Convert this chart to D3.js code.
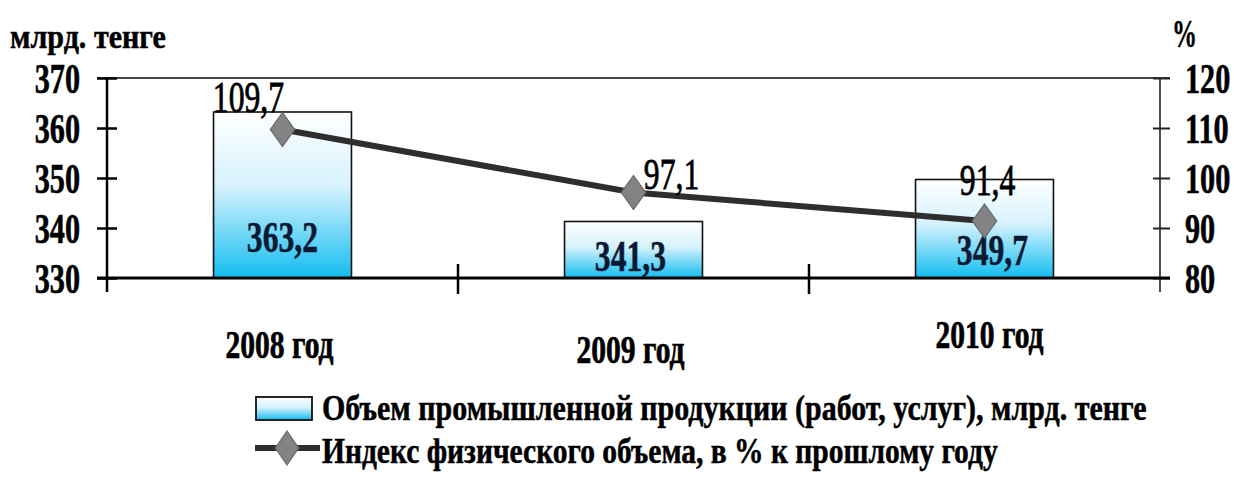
<!DOCTYPE html>
<html><head><meta charset="utf-8">
<script src="https://cdn.jsdelivr.net/npm/d3@7"></script>
<style>body{margin:0;background:#fff}svg{display:block}text{font-family:"Liberation Serif","Times New Roman",serif}</style>
</head><body>
<svg id="c" width="1234" height="478"></svg>
<script>
const categories = ["2008 год", "2009 год", "2010 год"];
const volume = [363.2, 341.3, 349.7];
const volumeLabels = ["363,2", "341,3", "349,7"];
const index = [109.7, 97.1, 91.4];
const indexLabels = ["109,7", "97,1", "91,4"];
const leftTicks = [330, 340, 350, 360, 370];
const rightTicks = [80, 90, 100, 110, 120];
const leftTitle = "млрд. тенге";
const rightTitle = "%";
const legendBar = "Объем промышленной продукции (работ, услуг), млрд. тенге";
const legendLine = "Индекс физического объема, в % к прошлому году";

const svg = d3.select("#c");
const L = 107, R = 1160, T = 78, B = 278;
const SX = 0.72;

const defs = svg.append("defs");
const g = defs.append("linearGradient").attr("id","bg").attr("x1",0).attr("y1",0).attr("x2",0).attr("y2",1);
g.append("stop").attr("offset","0%").attr("stop-color","#ffffff");
g.append("stop").attr("offset","45%").attr("stop-color","#d6f2fd");
g.append("stop").attr("offset","100%").attr("stop-color","#12bdf0");

const x = d3.scaleBand().domain(categories).range([L, R]).paddingInner(0.607).paddingOuter(0.3035);
const yL = d3.scaleLinear().domain([330, 370]).range([B, T]);
const yR = d3.scaleLinear().domain([80, 120]).range([B, T]);
const cx = d => x(d) + x.bandwidth() / 2;

// fit a text horizontally to a given width by scaling
function fitText(px, py, width, size, txt) {
  const t = svg.append("text").attr("font-size", size).attr("font-weight", "bold")
    .attr("stroke", "#000").attr("stroke-width", 0.5).text(txt);
  const w = t.node().getComputedTextLength();
  t.attr("transform", `translate(${px},${py}) scale(${width / w},1)`);
  return t;
}

// top frame
svg.append("line").attr("x1", L - 10).attr("x2", R + 10).attr("y1", T).attr("y2", T).attr("stroke", "#444").attr("stroke-width", 2.2);

// bars
svg.selectAll("rect.bar").data(categories).enter().append("rect")
  .attr("x", d => x(d)).attr("width", x.bandwidth())
  .attr("y", (d,i) => yL(volume[i])).attr("height", (d,i) => B - yL(volume[i]))
  .attr("fill", "url(#bg)").attr("stroke", "#111").attr("stroke-width", 1.6);

// left axis
const ax = svg.append("g").attr("transform", `translate(${L},0)`)
  .call(d3.axisLeft(yL).tickValues(leftTicks).tickSize(10).tickSizeOuter(0).tickPadding(0));
ax.select(".domain").attr("stroke", "#000").attr("stroke-width", 2.5).attr("d", `M0,${T}V${B + 14}`);
ax.selectAll(".tick line").attr("x2", -10).attr("x1", 10).attr("stroke", "#000").attr("stroke-width", 2.5);
ax.selectAll(".tick text").attr("font-size", 42).attr("font-weight", "bold").attr("fill", "#000")
  .attr("stroke", "#000").attr("stroke-width", 0.6)
  .attr("text-anchor", "end").attr("x", -27 / SX).attr("dy", "0.34em")
  .attr("transform", `scale(${SX},1)`);

// right axis
const ar = svg.append("g").attr("transform", `translate(${R},0)`)
  .call(d3.axisRight(yR).tickValues(rightTicks).tickSize(10).tickSizeOuter(0).tickPadding(0));
ar.select(".domain").attr("stroke", "#222").attr("stroke-width", 1.6).attr("d", `M0,${T}V${B + 14}`);
ar.selectAll(".tick line").attr("x1", -7).attr("x2", 10).attr("stroke", "#222").attr("stroke-width", 2);
ar.selectAll(".tick text").attr("font-size", 42).attr("font-weight", "bold").attr("fill", "#000")
  .attr("stroke", "#000").attr("stroke-width", 0.6)
  .attr("text-anchor", "start").attr("x", 25 / SX).attr("dy", "0.34em")
  .attr("transform", `scale(${SX},1)`);

// bottom axis
svg.append("line").attr("x1", L - 10).attr("x2", R + 10).attr("y1", B).attr("y2", B).attr("stroke", "#000").attr("stroke-width", 3);
const bounds = categories.slice(1).map(d => x(d) - x.step() * x.paddingInner() / 2);
svg.selectAll("line.ct").data(bounds).enter().append("line")
  .attr("x1", d => d).attr("x2", d => d).attr("y1", B - 14).attr("y2", B + 16)
  .attr("stroke", "#000").attr("stroke-width", 2.5);

// category labels
const catDy = [0, 5, -10];
svg.selectAll("text.cat").data(categories).enter().append("text")
  .attr("transform", (d,i) => `translate(${cx(d) - 3 + (i===2?8:0)},${358 + catDy[i]}) scale(0.74,1)`)
  .attr("text-anchor", "middle").attr("font-size", 40).attr("font-weight", "bold")
  .attr("stroke", "#000").attr("stroke-width", 0.7).text(d => d);

// bar value labels
svg.selectAll("text.bv").data(categories).enter().append("text")
  .attr("transform", (d,i) => `translate(${cx(d) + (i===2?8:(i===1?-3:0))},${[252,271,265][i]}) scale(${SX},1)`)
  .attr("text-anchor", "middle").attr("font-size", 44).attr("font-weight", "bold").attr("fill", "#0b1a33")
  .attr("stroke", "#0b1a33").attr("stroke-width", 0.5)
  .text((d,i) => volumeLabels[i]);

// line
const line = d3.line().x((d,i) => cx(categories[i])).y(d => yR(d));
svg.append("path").datum(index).attr("d", line).attr("fill", "none").attr("stroke", "#2e2e2e").attr("stroke-width", 6);
const diamond = d3.symbol().type(d3.symbolDiamond).size(330);
svg.selectAll("path.mk").data(index).enter().append("path")
  .attr("d", diamond).attr("transform", (d,i) => `translate(${cx(categories[i])},${yR(d)}) scale(1.25,1)`)
  .attr("fill", "#838383").attr("stroke", "#6a6a6a").attr("stroke-width", 1);

// line value labels
const ilx = [-34, 38, 3], ily = [-18, -4, -26];
svg.selectAll("text.iv").data(index).enter().append("text")
  .attr("transform", (d,i) => `translate(${cx(categories[i]) + ilx[i]},${yR(d) + ily[i]}) scale(${SX},1)`)
  .attr("text-anchor", "middle").attr("font-size", 44).attr("fill", "#000")
  .attr("stroke", "#000").attr("stroke-width", 0.8).text((d,i) => indexLabels[i]);

// titles
fitText(10, 48, 156, 34, leftTitle);
fitText(1172, 47, 25, 40, rightTitle);

// legend
svg.append("rect").attr("x", 256).attr("y", 397).attr("width", 56).attr("height", 23)
  .attr("fill", "url(#bg)").attr("stroke", "#111").attr("stroke-width", 1.8);
fitText(322, 420, 825, 35, legendBar);
svg.append("line").attr("x1", 255).attr("x2", 320).attr("y1", 448).attr("y2", 448).attr("stroke", "#2e2e2e").attr("stroke-width", 6);
svg.append("path").attr("d", diamond).attr("transform", "translate(287,448) scale(1.2,1)")
  .attr("fill", "#838383").attr("stroke", "#6a6a6a").attr("stroke-width", 1);
fitText(322, 463, 676, 35, legendLine);
</script>
</body></html>
